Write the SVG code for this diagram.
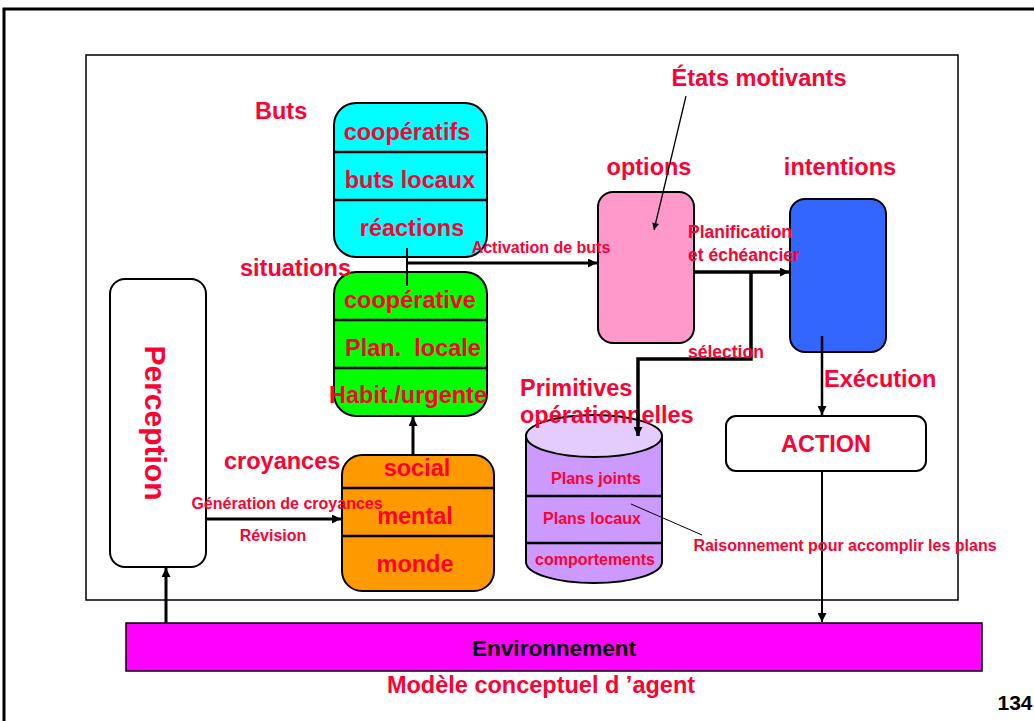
<svg xmlns="http://www.w3.org/2000/svg" width="1034" height="721" viewBox="0 0 1034 721">
<defs>
<style>
text{font-family:"Liberation Sans",Arial,sans-serif;font-weight:bold;fill:#FF0033;dominant-baseline:central}
.big{font-size:23.5px}
.sm{font-size:16px}
.md{font-size:17.5px}
.box{stroke:#000;stroke-width:2}
.div{stroke:#000;stroke-width:2.5}
.c{fill:none;stroke:#000}
</style>
<marker id="ah" viewBox="0 0 10 10" refX="10" refY="5" markerWidth="11" markerHeight="9" markerUnits="userSpaceOnUse" orient="auto"><path d="M0,0L10,5L0,10z" fill="#000"/></marker>
<marker id="ahs" viewBox="0 0 10 10" refX="10" refY="5" markerWidth="10" markerHeight="7" markerUnits="userSpaceOnUse" orient="auto"><path d="M0,0L10,5L0,10z" fill="#000"/></marker>
</defs>
<rect width="1034" height="721" fill="#fff"/>
<rect x="4" y="9" width="1040" height="720" fill="none" stroke="#000" stroke-width="3"/>
<rect x="86" y="55" width="872" height="545" fill="none" stroke="#000" stroke-width="1.5"/>

<g id="environnement">
<rect x="126" y="623" width="856" height="48" fill="#FF00FF" stroke="#000" stroke-width="1.5"/>
<text x="554" y="648" text-anchor="middle" style="fill:#000;font-size:22.5px">Environnement</text>
</g>
<g id="perception">
<rect x="110" y="279" width="96" height="288" rx="15" fill="#fff" class="box"/>
<text transform="translate(155,423) rotate(90)" text-anchor="middle" style="font-size:30px">Perception</text>
</g>
<g id="buts">
<rect x="334" y="103" width="153" height="154" rx="22" fill="#00FFFF" class="box"/>
<line x1="334" y1="152" x2="487" y2="152" class="div"/>
<line x1="334" y1="200" x2="487" y2="200" class="div"/>
<text class="big" x="407" y="132" text-anchor="middle">coopératifs</text>
<text class="big" x="410" y="180" text-anchor="middle">buts locaux</text>
<text class="big" x="412" y="228" text-anchor="middle">réactions</text>
<text class="big" x="255" y="111">Buts</text>
</g>
<g id="situations">
<rect x="334" y="272" width="153" height="144" rx="22" fill="#00FF00" class="box"/>
<line x1="334" y1="320" x2="487" y2="320" class="div"/>
<line x1="334" y1="368" x2="487" y2="368" class="div"/>
<text class="big" x="410" y="300" text-anchor="middle">coopérative</text>
<text class="big" x="413" y="348" text-anchor="middle" xml:space="preserve">Plan.  locale</text>
<text class="big" x="408" y="395" text-anchor="middle">Habit./urgente</text>
<text class="big" x="240" y="268">situations</text>
</g>
<g id="croyances">
<rect x="342" y="455" width="152" height="136" rx="20" fill="#FF9900" class="box"/>
<line x1="342" y1="488" x2="494" y2="488" class="div"/>
<line x1="342" y1="536" x2="494" y2="536" class="div"/>
<text class="big" x="417" y="468" text-anchor="middle">social</text>
<text class="big" x="415" y="516" text-anchor="middle">mental</text>
<text class="big" x="415" y="564" text-anchor="middle">monde</text>
<text class="big" x="224" y="461">croyances</text>
</g>
<g id="options">
<rect x="598" y="192" width="96" height="151" rx="15" fill="#FF99CC" class="box"/>
<text class="big" x="649" y="167" text-anchor="middle">options</text>
</g>
<g id="intentions">
<rect x="790" y="199" width="96" height="153" rx="15" fill="#3366FF" class="box"/>
<text class="big" x="840" y="167" text-anchor="middle">intentions</text>
</g>
<g id="primitives">
<path d="M526,436 L526,562 A68,21 0 0 0 662,562 L662,436 Z" fill="#CC99FF" stroke="#000" stroke-width="2"/>
<ellipse cx="594" cy="436" rx="68" ry="21" fill="#E5CCFF" stroke="#000" stroke-width="2"/>
<line x1="526" y1="496" x2="662" y2="496" class="div"/>
<line x1="526" y1="543" x2="662" y2="543" class="div"/>
<text class="sm" x="596" y="478" text-anchor="middle">Plans joints</text>
<text class="sm" x="592" y="518" text-anchor="middle">Plans locaux</text>
<text class="sm" x="595" y="559" text-anchor="middle">comportements</text>
<text class="big" x="520" y="388">Primitives</text>
<text class="big" x="520" y="415">opérationnelles</text>
</g>
<g id="action">
<rect x="726" y="416" width="200" height="55" rx="10" fill="#fff" class="box"/>
<text class="big" x="826" y="444" text-anchor="middle">ACTION</text>
</g>
<g id="etats">
<text class="big" x="759" y="78" text-anchor="middle">États motivants</text>
</g>

<g id="connectors">
<line x1="166" y1="623" x2="166" y2="568" class="c" stroke-width="3" marker-end="url(#ah)"/>
<line x1="206" y1="519" x2="341" y2="519" class="c" stroke-width="3" marker-end="url(#ah)"/>
<line x1="413" y1="455" x2="413" y2="417" class="c" stroke-width="3" marker-end="url(#ah)"/>
<polyline points="407,248 407,286" class="c" stroke-width="2"/>
<line x1="406" y1="263" x2="597" y2="263" class="c" stroke-width="3" marker-end="url(#ah)"/>
<line x1="694" y1="272" x2="789" y2="272" class="c" stroke-width="3.5" marker-end="url(#ah)"/>
<polyline points="751,272 751,359 638,359 638,436" class="c" stroke-width="3.5" marker-end="url(#ah)"/>
<line x1="686" y1="96" x2="654" y2="230" class="c" stroke-width="1.3" marker-end="url(#ahs)"/>
<line x1="822" y1="336" x2="822" y2="415" class="c" stroke-width="2.5" marker-end="url(#ah)"/>
<line x1="822" y1="471" x2="822" y2="622" class="c" stroke-width="2" marker-end="url(#ah)"/>
<line x1="631" y1="504" x2="702" y2="535" class="c" stroke-width="1"/>
<text class="sm" x="541" y="247" text-anchor="middle">Activation de buts</text>
<text class="md" x="688" y="232">Planification</text>
<text class="md" x="688" y="255">et échéancier</text>
<text class="md" x="688" y="352">sélection</text>
<text class="sm" x="287" y="503" text-anchor="middle">Génération de croyances</text>
<text class="sm" x="273" y="535" text-anchor="middle">Révision</text>
<text class="sm" x="845" y="545" text-anchor="middle">Raisonnement pour accomplir les plans</text>
<text class="big" x="824" y="379">Exécution</text>
</g>
<text x="541" y="685" text-anchor="middle" style="font-size:23.5px">Modèle conceptuel d ’agent</text>
<text x="1015" y="702" text-anchor="middle" style="fill:#000;font-size:21px">134</text>
</svg>
